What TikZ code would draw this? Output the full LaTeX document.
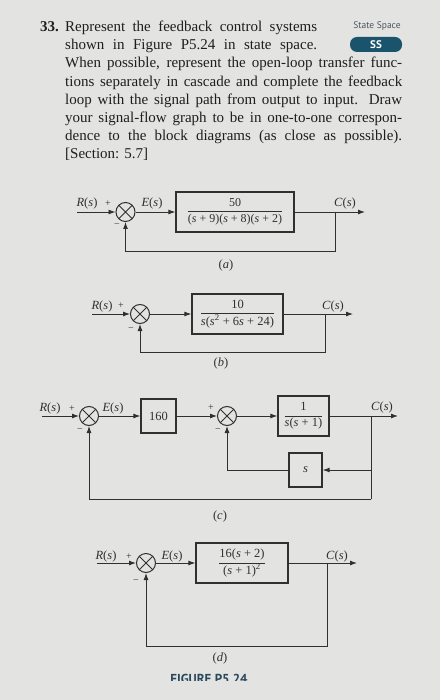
\documentclass[tikz,border=0pt]{standalone}
\usepackage{fontspec}
\setmainfont{Liberation Serif}
\newfontfamily\sansf{PT Sans}
\usetikzlibrary{arrows.meta}
\definecolor{paper}{RGB}{227,227,225}
\definecolor{ink}{RGB}{48,48,48}
\definecolor{txt}{RGB}{30,30,30}
\definecolor{badge}{RGB}{26,84,108}
\definecolor{sscol}{RGB}{75,85,95}
\definecolor{capcol}{RGB}{40,72,92}
\newcommand{\dfont}{\fontsize{12.5}{14}\selectfont}
\newcommand{\sgnfont}{\fontsize{10}{11}\selectfont}
\newcommand{\bodyfont}{\fontsize{15}{18}\selectfont}
\newcommand{\frc}[2]{$\displaystyle\frac{\mbox{#1}}{\mbox{#2}}$}
\newcommand{\vs}{\textit{s}}
\tikzset{
  sumj/.style={circle,draw=ink,line width=1pt,minimum size=19pt,inner sep=0pt,
    path picture={\draw[ink,line width=0.9pt]
      (path picture bounding box.north west)--(path picture bounding box.south east)
      (path picture bounding box.north east)--(path picture bounding box.south west);}},
  blk/.style={draw=ink,line width=1.3pt,rectangle,inner sep=0pt,font=\dfont,text=ink},
  wire/.style={draw=ink,line width=0.9pt},
  arr/.style={wire,-{Latex[length=7pt,width=5pt]}},
  lab/.style={text=ink,font=\dfont,inner sep=0pt},
  sgn/.style={text=ink,font=\sgnfont,inner sep=0pt},
  bodyline/.style={anchor=base west,inner sep=0pt,text=txt,font=\bodyfont}
}
\begin{document}
\begin{tikzpicture}[x=1pt,y=-1pt]
\fill[paper] (0,0) rectangle (440,700);
\useasboundingbox (0,0) rectangle (440,700);

% ---------- problem text ----------
\node[bodyline,font=\bodyfont\bfseries] (num) at (40,31.5) {33.};
\node[bodyline] (l1) at (65,31.5) {\makebox[252pt][s]{Represent the feedback control systems}};
\node[bodyline] (l2) at (65,49.7) {\makebox[252pt][s]{shown in Figure P5.24 in state space.}};
\node[bodyline] (l3) at (65,67.9) {\makebox[337pt][s]{When possible, represent the open-loop transfer func-}};
\node[bodyline] (l4) at (65,86.1) {\makebox[337pt][s]{tions separately in cascade and complete the feedback}};
\node[bodyline] (l5) at (65,104.3) {\makebox[337pt][s]{loop with the signal path from output to input. Draw}};
\node[bodyline] (l6) at (65,122.5) {\makebox[337pt][s]{your signal-flow graph to be in one-to-one correspon-}};
\node[bodyline] (l7) at (65,140.7) {\makebox[337pt][s]{dence to the block diagrams (as close as possible).}};
\node[bodyline] (l8) at (65,158.9) {[Section: 5.7]};

\node[text=sscol,font=\sansf\fontsize{9.5}{10}\selectfont,inner sep=0pt] (stsp) at (377,26) {State Space};
\node[fill=badge,rounded corners=7pt,minimum width=52pt,minimum height=15pt,inner sep=0pt,
  text=white,font=\sansf\bfseries\fontsize{11}{11}\selectfont] (ss) at (376,44.5) {SS};

% ---------- (a) ----------
\coordinate (ina) at (77,212);
\node[sumj] (sa) at (125.5,212) {};
\node[blk,minimum width=118pt,minimum height=40pt] (ba) at (235,212)
  {\fontsize{12}{14}\selectfont\frc{50}{(\vs\ + 9)(\vs\ + 8)(\vs\ + 2)}};
\coordinate (outa) at (365,212);
\coordinate (bra) at (335,212);
\coordinate (fa) at (335,251);
\draw[arr] (ina) -- (sa.west);
\draw[arr] (sa.east) -- (ba.west);
\draw[arr] (ba.east) -- (outa);
\draw[arr] (bra) -- (fa) -| (sa.south);
\node[lab] (ra) at (87,203) {\textit{R}(\vs)};
\node[sgn] (pa) at (108,204) {+};
\node[sgn] (ma) at (117,226) {−};
\node[lab] (ea) at (152,203) {\textit{E}(\vs)};
\node[lab] (ca) at (345,203) {\textit{C}(\vs)};
\node[lab] (cpa) at (226,265) {(\textit{a})};

% ---------- (b) ----------
\coordinate (inb) at (92,314);
\node[sumj] (sb) at (140,314) {};
\node[blk,minimum width=91pt,minimum height=40pt] (bb) at (237.5,314)
  {\frc{10}{\vs(\vs\textsuperscript{2} + 6\vs\ + 24)}};
\coordinate (outb) at (353,314);
\coordinate (brb) at (325,314);
\coordinate (fb) at (325,352);
\draw[arr] (inb) -- (sb.west);
\draw[arr] (sb.east) -- (bb.west);
\draw[arr] (bb.east) -- (outb);
\draw[arr] (brb) -- (fb) -| (sb.south);
\node[lab] (rb) at (102,306) {\textit{R}(\vs)};
\node[sgn] (pb) at (121,306) {+};
\node[sgn] (mb) at (131,330) {−};
\node[lab] (cb) at (333,306) {\textit{C}(\vs)};
\node[lab] (cpb) at (221,363) {(\textit{b})};

% ---------- (c) ----------
\coordinate (inc) at (42,416);
\node[sumj] (s1) at (89,416) {};
\node[blk,minimum width=35pt,minimum height=34pt] (bk) at (158.5,416) {160};
\node[sumj] (s2) at (227,416) {};
\node[blk,minimum width=51pt,minimum height=40pt] (bg) at (303.5,416)
  {\frc{1}{\vs(\vs\ + 1)}};
\node[blk,minimum width=33pt,minimum height=34pt] (bh) at (305.5,470) {\vs};
\coordinate (outc) at (398,416);
\coordinate (brc) at (371,416);
\coordinate (hc) at (371,470);
\coordinate (fc) at (371,499);
\draw[arr] (inc) -- (s1.west);
\draw[arr] (s1.east) -- (bk.west);
\draw[arr] (bk.east) -- (s2.west);
\draw[arr] (s2.east) -- (bg.west);
\draw[arr] (bg.east) -- (outc);
\draw[wire] (brc) -- (fc);
\draw[arr] (hc) -- (bh.east);
\draw[arr] (bh.west) -| (s2.south);
\draw[arr] (fc) -| (s1.south);
\node[lab] (rc) at (50,408) {\textit{R}(\vs)};
\node[sgn] (pc1) at (72,409) {+};
\node[sgn] (mc1) at (80,431) {−};
\node[lab] (ec) at (113,408) {\textit{E}(\vs)};
\node[sgn] (pc2) at (211,408) {+};
\node[sgn] (mc2) at (218,431) {−};
\node[lab] (cc) at (382,407) {\textit{C}(\vs)};
\node[lab] (cpc) at (220,516) {(\textit{c})};

% ---------- (d) ----------
\coordinate (ind) at (97,563);
\node[sumj] (sd) at (146,563) {};
\node[blk,minimum width=92pt,minimum height=40pt] (bd) at (242,563)
  {\frc{16(\vs\ + 2)}{(\vs\ + 1)\textsuperscript{2}}};
\coordinate (outd) at (357,563);
\coordinate (brd) at (327,563);
\coordinate (fd) at (327,646);
\draw[arr] (ind) -- (sd.west);
\draw[arr] (sd.east) -- (bd.west);
\draw[arr] (bd.east) -- (outd);
\draw[arr] (brd) -- (fd) -| (sd.south);
\node[lab] (rd) at (106,556) {\textit{R}(\vs)};
\node[sgn] (pd) at (129,557) {+};
\node[sgn] (md) at (136,582) {−};
\node[lab] (ed) at (172,556) {\textit{E}(\vs)};
\node[lab] (cd) at (337,556) {\textit{C}(\vs)};
\node[lab] (cpd) at (220,658) {(\textit{d})};

\begin{scope}
  \clip (140,660) rectangle (300,680.7);
  \node[anchor=north,inner sep=0pt,text=capcol,font=\sansf\bfseries\fontsize{13}{13}\selectfont] (fig) at (209,674.3) {FIGURE P5.24};
\end{scope}
\end{tikzpicture}
\end{document}
